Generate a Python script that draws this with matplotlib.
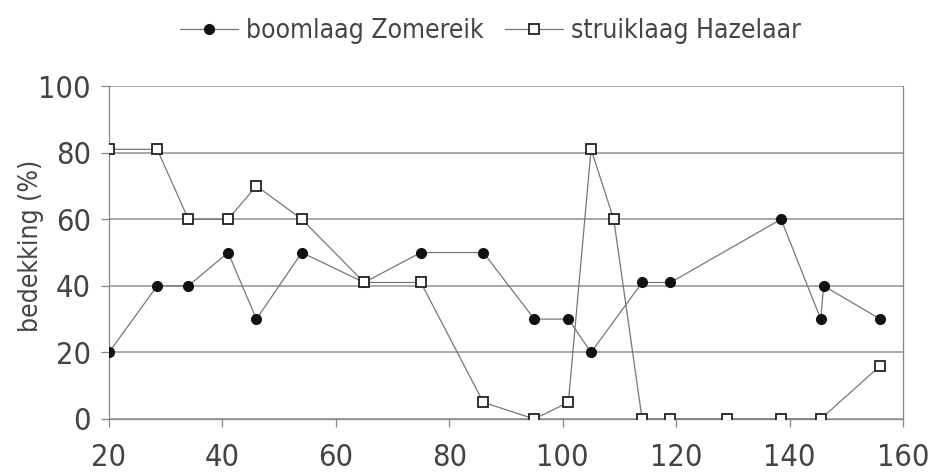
import matplotlib
matplotlib.use("Agg")
import matplotlib.pyplot as plt
from matplotlib import font_manager

# data
zomereik_x = [20, 28.5, 34, 41, 46, 54, 65, 75, 86, 95, 101, 105, 114, 119, 138.5, 145.5, 146, 156]
zomereik_y = [20, 40, 40, 50, 30, 50, 41, 50, 50, 30, 30, 20, 41, 41, 60, 30, 40, 30]

hazelaar_x = [20, 28.5, 34, 41, 46, 54, 65, 75, 86, 95, 101, 105, 109, 114, 119, 129, 138.5, 145.5, 156]
hazelaar_y = [81, 81, 60, 60, 70, 60, 41, 41, 5, 0, 5, 81, 60, 0, 0, 0, 0, 0, 16]

x_ticks = [20, 40, 60, 80, 100, 120, 140, 160]
y_ticks = [0, 20, 40, 60, 80, 100]

# look for a narrow font, the reference uses a condensed sans
fonts = font_manager.fontManager.ttflist
narrow = [f for f in fonts if 'Narrow' in f.name or 'Condensed' in f.name
          or 'Narrow' in f.fname or 'Condensed' in f.fname]
narrow = [f for f in narrow if 'Bold' not in f.fname and 'Oblique' not in f.fname
          and 'Italic' not in f.fname]
if narrow:
    fp = font_manager.FontProperties(fname=narrow[0].fname)
else:
    fp = font_manager.FontProperties(family='DejaVu Sans')

fig = plt.figure(figsize=(9.37, 4.73), dpi=100)
ax = fig.add_axes([0.1163, 0.1142, 0.9637 - 0.1163, 0.818 - 0.1142])

ax.plot(zomereik_x, zomereik_y, color='#777777', lw=0.9, marker='o', markersize=7,
        markerfacecolor='#111111', markeredgecolor='#111111', label='boomlaag Zomereik', zorder=3)
ax.plot(hazelaar_x, hazelaar_y, color='#777777', lw=0.9, marker='s', markersize=6.5,
        markerfacecolor='white', markeredgecolor='#222222', markeredgewidth=1.3,
        label='struiklaag Hazelaar', zorder=3)

ax.set_xlim(20, 160)
ax.set_ylim(0, 100)
ax.set_xticks(x_ticks)
ax.set_yticks(y_ticks)
ax.yaxis.grid(True, color='#999999', lw=1.2)
ax.set_axisbelow(True)
for s in ['left', 'bottom', 'right']:
    ax.spines[s].set_color('#888888')
    ax.spines[s].set_linewidth(0.9)
ax.spines['top'].set_visible(False)
ax.tick_params(axis='both', colors='#888888', labelcolor='#444444', length=6, width=0.9)
ax.tick_params(axis='x', pad=11)
ax.tick_params(axis='y', pad=7)
for lab in ax.get_xticklabels() + ax.get_yticklabels():
    lab.set_fontproperties(fp)
    lab.set_fontsize(22)
ax.set_ylabel('bedekking (%)', fontproperties=fp, fontsize=19, color='#444444')
ax.yaxis.set_label_coords(-0.082, 0.52)

leg_fp = fp.copy()
leg_fp.set_size(19)
fig.legend(loc='upper center', bbox_to_anchor=(0.523, 1.012), ncol=2, frameon=False,
           prop=leg_fp, labelcolor='#444444', handlelength=2.2, columnspacing=0.8,
           handletextpad=0.3)

fig.savefig('out.png', dpi=100)
